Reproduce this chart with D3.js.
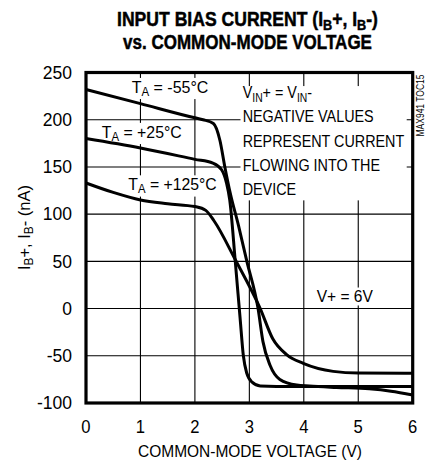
<!DOCTYPE html>
<html>
<head>
<meta charset="utf-8">
<script src="https://cdn.jsdelivr.net/npm/d3@7"></script>
<style>
  html, body { margin: 0; padding: 0; background: #fff; }
  svg { display: block; }
</style>
</head>
<body>
<div id="chart"></div>
<script>
// Input bias current vs. common-mode voltage, three temperatures.

// Axis ticks
var xTicks = [0, 1, 2, 3, 4, 5, 6];
var yTicks = [-100, -50, 0, 50, 100, 150, 200, 250];

// T_A = -55 degC
var vcmMinus55 = [0, 1, 2, 2.15, 2.34, 2.46, 2.55, 2.65, 2.8, 2.95, 3.16, 3.25, 3.38, 3.56, 3.87, 4.1, 4.6, 5.2, 5.6, 6];
var ibMinus55 = [232, 217, 202, 200, 196, 178, 150, 122, 88, 51, 0, -35, -60, -75, -81, -82, -83.5, -85, -87.5, -91.5];

// T_A = +25 degC
var vcmPlus25 = [0, 1, 2, 2.33, 2.49, 2.58, 2.64, 2.74, 2.83, 2.89, 2.95, 3.05, 3.2, 3.5, 6];
var ibPlus25 = [180, 170, 158, 154, 147, 133, 115, 51, -10, -50, -68, -78, -82, -82.5, -82.5];

// T_A = +125 degC
var vcmPlus125 = [0, 0.5, 1, 1.5, 2, 2.2, 2.35, 2.74, 3.2, 3.43, 3.69, 3.99, 4.54, 5, 6];
var ibPlus125 = [133, 123, 115, 111, 108, 104, 93, 52, 0, -32, -49, -58, -66.5, -68.3, -68.5];

var W = 438, H = 463;
var FONT = '"Liberation Sans", Arial, sans-serif';

var svg = d3.select('#chart').append('svg')
  .attr('width', W)
  .attr('height', H);

var x = d3.scaleLinear().domain([0, 6]).range([86, 412.7]);
var y = d3.scaleLinear().domain([-100, 250]).range([403, 72.5]);

// Writes text made of [string, isSubscript] parts
function richText(sel, parts, size) {
  var off = size * 0.2, low = false;
  parts.forEach(function(p) {
    var t = sel.append('tspan').text(p[0]);
    if (p[1]) {
      t.attr('font-size', size * 0.72);
      if (!low) { t.attr('dy', off); low = true; }
    } else if (low) {
      t.attr('dy', -off);
      low = false;
    }
  });
  return sel;
}

// The original uses a condensed face: squeeze a text group to a width.
function fitText(parent, x0, y0, anchor, width, size, parts) {
  var g = parent.append('g');
  var t = g.append('text').attr('text-anchor', anchor).attr('font-size', size);
  richText(t, parts, size);
  var k = width / t.node().getBBox().width;
  g.attr('transform', 'translate(' + x0 + ',' + y0 + ') scale(' + k + ',1)');
  return g;
}

function boxed(g, pad) {
  var b = g.select('text').node().getBBox();
  g.insert('rect', ':first-child')
    .attr('x', b.x - pad).attr('y', b.y + 1)
    .attr('width', b.width + 2 * pad).attr('height', b.height - 1)
    .attr('fill', '#fff');
}

// Title
var title = svg.append('g')
  .attr('font-family', FONT)
  .attr('font-weight', 'bold')
  .attr('stroke', '#000').attr('stroke-width', 0.5);
fitText(title, 247.5, 26, 'middle', 261, 21,
  [['INPUT BIAS CURRENT (I', false], ['B', true], ['+, I', false], ['B', true], ['-)', false]]);
fitText(title, 247.5, 48.5, 'middle', 249, 21, [['vs. COMMON-MODE VOLTAGE', false]]);

// Grid
var grid = svg.append('g').attr('stroke', '#000').attr('stroke-width', 1.1);
grid.selectAll('line.v').data(xTicks.slice(1, -1)).enter().append('line')
  .attr('x1', function(d) { return x(d); })
  .attr('x2', function(d) { return x(d); })
  .attr('y1', y(250)).attr('y2', y(-100));
grid.selectAll('line.h').data(yTicks.slice(1, -1)).enter().append('line')
  .attr('x1', x(0)).attr('x2', x(6))
  .attr('y1', function(d) { return y(d); })
  .attr('y2', function(d) { return y(d); });

// Text labels inside the plot (white boxes hide the grid behind them)
var labels = svg.append('g').attr('font-family', FONT);
var LS = 17.3;

boxed(fitText(labels, 131.7, 92.5, 'start', 76.6, LS, [['T', false], ['A', true], [' = -55°C', false]]), 1);
boxed(fitText(labels, 101.7, 137.5, 'start', 80, LS, [['T', false], ['A', true], [' = +25°C', false]]), 1);
boxed(fitText(labels, 128.3, 190, 'start', 88.4, LS, [['T', false], ['A', true], [' = +125°C', false]]), 1);
boxed(fitText(labels, 316.7, 302.3, 'start', 56.6, LS, [['V+ = 6V', false]]), 1);

// Note block
var noteLines = [
  [['V', false], ['IN', true], ['+ = V', false], ['IN', true], ['-', false]],
  [['NEGATIVE VALUES', false]],
  [['REPRESENT CURRENT', false]],
  [['FLOWING INTO THE', false]],
  [['DEVICE', false]]
];
var noteBg = labels.append('rect').attr('fill', '#fff');
var note = labels.append('g')
  .attr('transform', 'translate(242.7,0) scale(0.83,1)');
noteLines.forEach(function(parts, i) {
  richText(note.append('text').attr('x', 0).attr('y', 98.3 + i * 24.2).attr('font-size', LS), parts, LS);
});
var nb = note.node().getBBox();
noteBg.attr('x', 240.5).attr('y', nb.y + 3)
  .attr('width', x(6) - 6 - 240.5).attr('height', nb.height - 1);

// Curves
var line = d3.line()
  .x(function(d) { return x(d[0]); })
  .y(function(d) { return y(d[1]); })
  .curve(d3.curveMonotoneX);

var series = [
  d3.zip(vcmMinus55, ibMinus55),
  d3.zip(vcmPlus25, ibPlus25),
  d3.zip(vcmPlus125, ibPlus125)
];
svg.append('g').selectAll('path').data(series).enter().append('path')
  .attr('d', line)
  .attr('fill', 'none')
  .attr('stroke', '#000')
  .attr('stroke-width', 3)
  .attr('stroke-linejoin', 'round');

// Frame
svg.append('rect')
  .attr('x', x(0)).attr('y', y(250))
  .attr('width', x(6) - x(0)).attr('height', y(-100) - y(250))
  .attr('fill', 'none').attr('stroke', '#000').attr('stroke-width', 3.2);

// Tick labels
var tickG = svg.append('g').attr('font-family', FONT).attr('font-size', 17.5);
tickG.selectAll('text.x').data(xTicks).enter().append('text')
  .attr('x', function(d) { return x(d); })
  .attr('y', 433)
  .attr('text-anchor', 'middle')
  .attr('transform', function(d) { return 'translate(' + x(d) + ',0) scale(0.95,1) translate(' + (-x(d)) + ',0)'; })
  .text(function(d) { return d; });
tickG.selectAll('text.y').data(yTicks).enter().append('text')
  .attr('x', 72)
  .attr('y', function(d) { return y(d); })
  .attr('dy', '0.36em')
  .attr('text-anchor', 'end')
  .text(function(d) { return d; });

// Axis titles
fitText(svg.append('g').attr('font-family', FONT), 250, 457, 'middle', 224, 17.3,
  [['COMMON-MODE VOLTAGE (V)', false]]);

richText(svg.append('text')
  .attr('transform', 'translate(30,227.5) rotate(-90)')
  .attr('font-family', FONT).attr('font-size', 16.5)
  .attr('text-anchor', 'middle'),
  [['I', false], ['B', true], ['+, I', false], ['B', true], ['- (nA)', false]], 16.5);

// Figure code
svg.append('text')
  .attr('transform', 'translate(424,105.5) rotate(-90) scale(0.85,1)')
  .attr('font-family', FONT).attr('font-size', 10)
  .attr('text-anchor', 'middle')
  .text('MAX941 TOC15');
</script>
</body>
</html>
